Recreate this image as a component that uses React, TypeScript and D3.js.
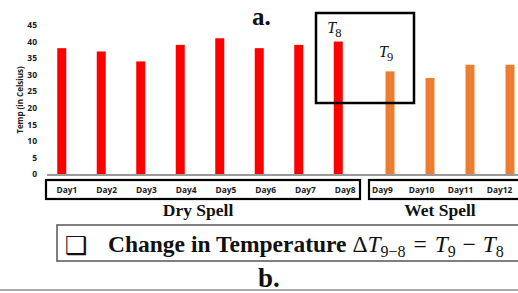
import React, { useEffect, useRef } from 'react';
import * as d3 from "d3";

const dryDays = ["Day1", "Day2", "Day3", "Day4", "Day5", "Day6", "Day7", "Day8"];
const dryTemps = [38, 37, 34, 39, 41, 38, 39, 40];
const wetDays = ["Day9", "Day10", "Day11", "Day12"];
const wetTemps = [31, 29, 33, 33];
const yTicks = [0, 5, 10, 15, 20, 25, 30, 35, 40, 45];

export default function App() {
    const svgRef = useRef(null);

    const drawChart = () => {
        const width = 518;
        const height = 293;
        const sans = "'Open Sans', sans-serif";
        const serif = "'Liberation Serif', 'Times New Roman', serif";

        d3.select(svgRef.current).selectAll("*").remove();
        const svg = d3.select(svgRef.current)
            .attr("width", width)
            .attr("height", height);

        const y = d3.scaleLinear().domain([0, 45]).range([174, 25]);
        const xDry = d3.scalePoint().domain(dryDays).range([42, 358]).padding(0.5);
        const xWet = d3.scalePoint().domain(wetDays).range([370, 530]).padding(0.5);
        // day labels are spread evenly inside their boxes, not under the bars
        const lblDry = d3.scalePoint().domain(dryDays).range([47, 365]).padding(0.5);
        const lblWet = d3.scalePoint().domain(wetDays).range([363, 519]).padding(0.5);
        const barW = 9;

        // y axis
        const yAxis = svg.append("g")
            .attr("transform", "translate(40,0)")
            .call(d3.axisLeft(y).tickValues(yTicks).tickSize(0).tickPadding(3));
        yAxis.select("path").remove();
        yAxis.selectAll("text")
            .style("font-family", sans)
            .style("font-size", "8.5px")
            .style("font-weight", "700")
            .attr("fill", "#222");

        svg.append("text")
            .attr("transform", "translate(23,100) rotate(-90)")
            .attr("text-anchor", "middle")
            .style("font-family", sans)
            .style("font-size", "8px")
            .style("font-weight", "700")
            .attr("fill", "#222")
            .text("Temp (in Celsius)");

        // bars
        svg.append("g").selectAll("rect")
            .data(dryDays.map((d, i) => ({ day: d, value: dryTemps[i] })))
            .enter()
            .append("rect")
            .attr("x", (d) => (xDry(d.day) || 0) - barW / 2)
            .attr("y", (d) => y(d.value))
            .attr("width", barW)
            .attr("height", (d) => y(0) - y(d.value))
            .attr("fill", "#FF0000");

        svg.append("g").selectAll("rect")
            .data(wetDays.map((d, i) => ({ day: d, value: wetTemps[i] })))
            .enter()
            .append("rect")
            .attr("x", (d) => (xWet(d.day) || 0) - barW / 2)
            .attr("y", (d) => y(d.value))
            .attr("width", barW)
            .attr("height", (d) => y(0) - y(d.value))
            .attr("fill", "#ED7D31");

        // baseline
        svg.append("line")
            .attr("x1", 47).attr("x2", width)
            .attr("y1", y(0) + 1).attr("y2", y(0) + 1)
            .attr("stroke", "#9a9a9a")
            .attr("stroke-width", 2);

        // category boxes
        svg.append("rect")
            .attr("x", 46).attr("y", 180).attr("width", 314).attr("height", 19)
            .attr("fill", "none").attr("stroke", "#000").attr("stroke-width", 2.2);
        svg.append("rect")
            .attr("x", 369).attr("y", 180).attr("width", 170).attr("height", 19)
            .attr("fill", "none").attr("stroke", "#000").attr("stroke-width", 2.2);

        const dayLabel = (sel: any) => sel
            .attr("text-anchor", "middle")
            .style("font-family", sans)
            .style("font-size", "8.4px")
            .style("font-weight", "700")
            .attr("fill", "#222");

        svg.append("g").selectAll("text")
            .data(dryDays).enter().append("text")
            .attr("x", (d) => lblDry(d) || 0)
            .attr("y", 193)
            .call(dayLabel)
            .text((d) => d);
        svg.append("g").selectAll("text")
            .data(wetDays).enter().append("text")
            .attr("x", (d) => lblWet(d) || 0)
            .attr("y", 193)
            .call(dayLabel)
            .text((d) => d);

        const spell = (label: string, x: number) => svg.append("text")
            .attr("x", x).attr("y", 216)
            .attr("text-anchor", "middle")
            .style("font-family", serif)
            .style("font-size", "17.5px")
            .style("font-weight", "700")
            .attr("fill", "#111")
            .text(label);
        spell("Dry Spell", 198);
        spell("Wet Spell", 440);

        // title a.
        svg.append("text")
            .attr("x", 252).attr("y", 25)
            .style("font-family", serif)
            .style("font-size", "25px")
            .style("font-weight", "700")
            .attr("fill", "#111")
            .text("a.");

        // annotation box with T8, T9
        svg.append("rect")
            .attr("x", 316).attr("y", 13).attr("width", 98).attr("height", 90)
            .attr("fill", "none").attr("stroke", "#000").attr("stroke-width", 2.5);

        const tLabel = (x: number, yy: number, sub: string) => {
            const t = svg.append("text")
                .attr("x", x).attr("y", yy)
                .style("font-family", serif)
                .style("font-size", "16px")
                .attr("fill", "#111");
            t.append("tspan").style("font-style", "italic").text("T");
            t.append("tspan").attr("dy", 4).attr("dx", -1).style("font-size", "12.5px").text(sub);
        };
        tLabel((xDry("Day8") || 0) - 11, 33, "8");
        tLabel((xWet("Day9") || 0) - 11, 57, "9");

        // formula box
        svg.append("rect")
            .attr("x", 57).attr("y", 225).attr("width", 480).attr("height", 36)
            .attr("fill", "#fff").attr("stroke", "#555").attr("stroke-width", 1.5);

        svg.append("text")
            .attr("x", 65).attr("y", 254)
            .style("font-family", "'DejaVu Sans', sans-serif")
            .style("font-size", "25px")
            .attr("fill", "#111")
            .text("\u2751");

        const f = svg.append("text")
            .attr("x", 108).attr("y", 252)
            .style("font-family", serif)
            .style("font-size", "23.5px")
            .attr("fill", "#111");
        f.append("tspan").style("font-weight", "700").text("Change in Temperature ");
        f.append("tspan").text("\u0394");
        f.append("tspan").style("font-style", "italic").text("T");
        f.append("tspan").attr("dy", 5).style("font-size", "16px").text("9\u22128");
        f.append("tspan").attr("dy", -5).attr("dx", 2).text(" = ");
        f.append("tspan").attr("dx", 2).style("font-style", "italic").text("T");
        f.append("tspan").attr("dy", 5).style("font-size", "16px").text("9");
        f.append("tspan").attr("dy", -5).attr("dx", 1).text(" \u2212 ");
        f.append("tspan").attr("dx", 1).style("font-style", "italic").text("T");
        f.append("tspan").attr("dy", 5).style("font-size", "16px").text("8");

        // title b.
        svg.append("text")
            .attr("x", 258).attr("y", 287)
            .style("font-family", serif)
            .style("font-size", "27px")
            .style("font-weight", "700")
            .attr("fill", "#111")
            .text("b.");

        svg.append("line")
            .attr("x1", 0).attr("x2", width)
            .attr("y1", 290).attr("y2", 290)
            .attr("stroke", "#aaa")
            .attr("stroke-width", 2);
    };

    useEffect(() => {
        drawChart();
    }, []);

    return (
        <svg ref={svgRef} style={{ position: "absolute", left: 0, top: 0, background: "#fff" }} />
    );
}
